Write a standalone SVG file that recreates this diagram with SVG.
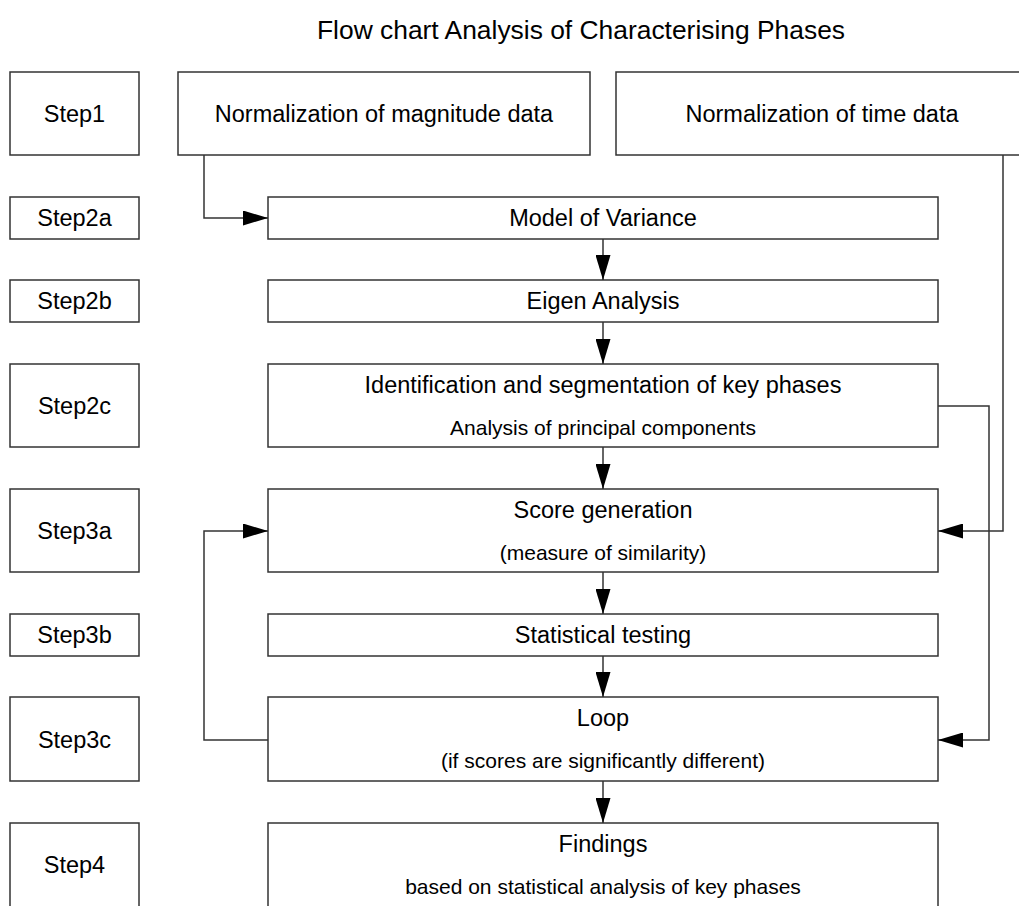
<svg xmlns="http://www.w3.org/2000/svg" width="1019" height="906" viewBox="0 0 1019 906">
<style>
rect{fill:#fff;stroke:#333;stroke-width:1.5}
text{font-family:"Liberation Sans",Arial,sans-serif;fill:#000;text-anchor:middle}
.m{font-size:23.5px}
.s{font-size:21px}
.t{font-size:26.4px}
.c{fill:none;stroke:#333;stroke-width:1.5}
</style>
<defs>
<marker id="ah" markerWidth="25" markerHeight="15" refX="25" refY="7.5" orient="auto" markerUnits="userSpaceOnUse">
<path d="M0,0 L25,7.5 L0,15 Z" fill="#000"/>
</marker>
</defs>
<text class="t" x="581" y="39">Flow chart Analysis of Characterising Phases</text>
<g id="step1"><rect x="10" y="72" width="129" height="83"/><text class="m" x="74.5" y="122">Step1</text></g>
<g id="step2a"><rect x="10" y="197" width="129" height="42"/><text class="m" x="74.5" y="226">Step2a</text></g>
<g id="step2b"><rect x="10" y="280" width="129" height="42"/><text class="m" x="74.5" y="309">Step2b</text></g>
<g id="step2c"><rect x="10" y="364" width="129" height="83"/><text class="m" x="74.5" y="414">Step2c</text></g>
<g id="step3a"><rect x="10" y="489" width="129" height="83"/><text class="m" x="74.5" y="539">Step3a</text></g>
<g id="step3b"><rect x="10" y="614" width="129" height="42"/><text class="m" x="74.5" y="643">Step3b</text></g>
<g id="step3c"><rect x="10" y="697" width="129" height="84"/><text class="m" x="74.5" y="748">Step3c</text></g>
<g id="step4"><rect x="10" y="823" width="129" height="90"/><text class="m" x="74.5" y="873">Step4</text></g>
<g id="magnitude"><rect x="178" y="72" width="412" height="83"/><text class="m" x="384" y="122">Normalization of magnitude data</text></g>
<g id="time"><rect x="616" y="72" width="412" height="83"/><text class="m" x="822" y="122">Normalization of time data</text></g>
<g id="variance"><rect x="268" y="197" width="670" height="42"/><text class="m" x="603" y="226">Model of Variance</text></g>
<g id="eigen"><rect x="268" y="280" width="670" height="42"/><text class="m" x="603" y="309">Eigen Analysis</text></g>
<g id="identification"><rect x="268" y="364" width="670" height="83"/><text class="m" x="603" y="393">Identification and segmentation of key phases</text><text class="s" x="603" y="435">Analysis of principal components</text></g>
<g id="score"><rect x="268" y="489" width="670" height="83"/><text class="m" x="603" y="518">Score generation</text><text class="s" x="603" y="560">(measure of similarity)</text></g>
<g id="stat"><rect x="268" y="614" width="670" height="42"/><text class="m" x="603" y="643">Statistical testing</text></g>
<g id="loop"><rect x="268" y="697" width="670" height="84"/><text class="m" x="603" y="726">Loop</text><text class="s" x="603" y="768">(if scores are significantly different)</text></g>
<g id="findings"><rect x="268" y="823" width="670" height="90"/><text class="m" x="603" y="852">Findings</text><text class="s" x="603" y="894">based on statistical analysis of key phases</text></g>
<g id="connectors">
<path class="c" d="M204,155 V218 H268" marker-end="url(#ah)"/>
<path class="c" d="M1003,155 V531 H938" marker-end="url(#ah)"/>
<path class="c" d="M938,406 H989 V740 H938" marker-end="url(#ah)"/>
<path class="c" d="M268,740 H204 V531 H268" marker-end="url(#ah)"/>
<path class="c" d="M603,239 V280" marker-end="url(#ah)"/>
<path class="c" d="M603,322 V364" marker-end="url(#ah)"/>
<path class="c" d="M603,447 V489" marker-end="url(#ah)"/>
<path class="c" d="M603,572 V614" marker-end="url(#ah)"/>
<path class="c" d="M603,656 V697" marker-end="url(#ah)"/>
<path class="c" d="M603,781 V823" marker-end="url(#ah)"/>
</g>
</svg>
